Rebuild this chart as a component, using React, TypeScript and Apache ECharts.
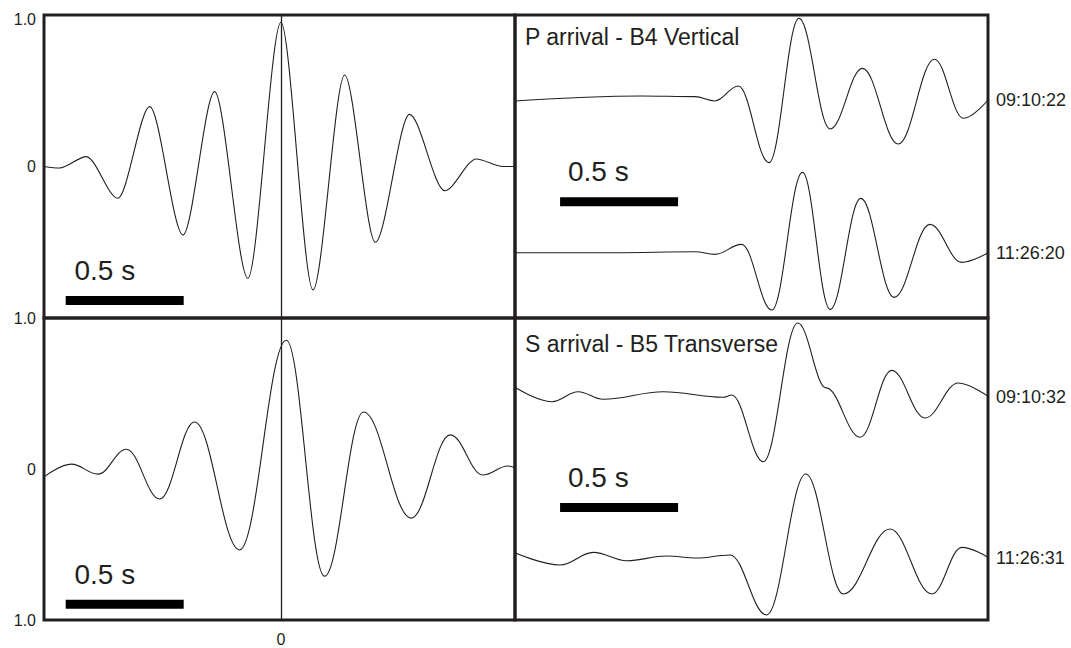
import React, { useEffect, useRef } from 'react';
import * as echarts from 'echarts';

const FONT = '"Liberation Sans", Arial, Helvetica, sans-serif';
const INK = '#231f20';

// Left panels: stacked cross-correlation waveforms, turning points [time (s), normalised amplitude]
const xcorrP: [number, number][] = [
  [-1.004, 0.0], [-0.938, -0.01], [-0.825, 0.065], [-0.691, -0.21], [-0.556, 0.395],
  [-0.415, -0.452], [-0.281, 0.494], [-0.14, -0.738], [0, 0.952], [0.136, -0.815],
  [0.27, 0.604], [0.4, -0.5], [0.545, 0.344], [0.694, -0.16], [0.828, 0.05], [0.941, 0.0], [0.992, 0.0],
];
const xcorrS: [number, number][] = [
  [-1.004, -0.052], [-0.888, 0.032], [-0.775, -0.034], [-0.655, 0.131], [-0.514, -0.199],
  [-0.366, 0.311], [-0.175, -0.536], [0.023, 0.853], [0.185, -0.71], [0.35, 0.377],
  [0.552, -0.325], [0.718, 0.226], [0.856, -0.04], [0.962, 0.02], [0.992, 0.01],
];

// Right panels: individual traces, turning points [time (s), amplitude]
const pTrace1: [number, number][] = [
  [0, -0.013], [0.537, 0.053], [0.763, 0.044], [0.847, -0.013], [0.946, 0.185], [1.076, -0.827],
  [1.203, 1.078], [1.335, -0.383], [1.472, 0.418], [1.624, -0.581], [1.777, 0.537],
  [1.9, -0.242], [2.004, 0],
];
const pTrace2: [number, number][] = [
  [0, 0], [0.424, 0], [0.763, 0.013], [0.847, -0.022], [0.96, 0.11], [1.088, -0.757],
  [1.218, 1.06], [1.335, -0.748], [1.465, 0.717], [1.606, -0.59], [1.758, 0.374],
  [1.893, -0.128], [2.004, 0],
];
const sTrace1: [number, number][] = [
  [0, 0.128], [0.156, -0.062], [0.268, 0.07], [0.374, -0.03], [0.628, 0.07], [0.883, -0.004],
  [0.918, 0.026], [1.052, -0.854], [1.198, 0.977], [1.318, 0.12], [1.462, -0.532],
  [1.596, 0.352], [1.737, -0.277], [1.878, 0.185], [2.004, 0.009],
];
const sTrace2: [number, number][] = [
  [0, 0.07], [0.191, -0.092], [0.332, 0.075], [0.473, -0.036], [0.643, 0.026], [0.77, 0],
  [0.911, 0.04], [1.066, -0.752], [1.232, 1.109], [1.391, -0.475], [1.589, 0.383],
  [1.766, -0.475], [1.893, 0.141], [2.004, 0.009],
];

const panelTitles = ['P arrival - B4 Vertical', 'S arrival - B5 Transverse'];
const traceLabels = ['09:10:22', '11:26:20', '09:10:32', '11:26:31'];
const leftTickValues = [1, 0, -1];
const leftTickLabels = ['1.0', '0', '1.0'];
const bottomTickValues = [0];
const bottomTickLabels = ['0'];
const scaleBarLength = 0.5; // seconds
const scaleBarText = '0.5 s';

export default function App() {
  const ref = useRef<HTMLDivElement>(null);

  useEffect(() => {
    if (!ref.current) return;
    const chart = echarts.init(ref.current, undefined, { renderer: 'svg' });

    const border = { show: true, borderColor: INK, borderWidth: 3, backgroundColor: 'transparent' };
    const grids = [
      { left: 44, top: 15, width: 471, height: 303, ...border },
      { left: 44, top: 318, width: 471, height: 302, ...border },
      { left: 515, top: 15, width: 473, height: 303, ...border },
      { left: 515, top: 15, width: 473, height: 303, show: false },
      { left: 515, top: 318, width: 473, height: 302, ...border },
      { left: 515, top: 318, width: 473, height: 302, show: false },
    ].map((g) => ({ ...g, containLabel: false, outerBoundsMode: 'none' }));

    const hiddenX = (i: number, min: number, max: number) => ({
      type: 'value', gridIndex: i, min, max, show: false, splitLine: { show: false },
    });
    const xAxes = [
      hiddenX(0, -1.004, 0.992),
      {
        type: 'value', gridIndex: 1, min: -1.004, max: 0.992,
        axisLine: { show: false }, axisTick: { show: false }, splitLine: { show: false },
        axisLabel: {
          customValues: bottomTickValues,
          formatter: (v: number) => bottomTickLabels[bottomTickValues.indexOf(v)] ?? '',
          color: INK, fontFamily: FONT, fontSize: 16, margin: 11,
        },
      },
      hiddenX(2, 0, 2.004), hiddenX(3, 0, 2.004), hiddenX(4, 0, 2.004), hiddenX(5, 0, 2.004),
    ];

    const leftY = (i: number, shown: number[]) => ({
      type: 'value', gridIndex: i, min: -1, max: 1,
      axisLine: { show: false }, axisTick: { show: false }, splitLine: { show: false },
      axisLabel: {
        customValues: shown,
        formatter: (v: number) => {
          const lbl = leftTickLabels[leftTickValues.indexOf(v)] ?? '';
          return v === 1 ? `{t|${lbl}}` : lbl;
        },
        rich: { t: { padding: [8, 0, 0, 0], fontFamily: FONT, fontSize: 16, color: INK } },
        color: INK, fontFamily: FONT, fontSize: 16, margin: 8,
      },
    });
    const rightY = (i: number, min: number, max: number, label: string) => ({
      type: 'value', gridIndex: i, min, max, position: 'right',
      axisLine: { show: false }, axisTick: { show: false }, splitLine: { show: false },
      axisLabel: {
        customValues: [0], formatter: () => label,
        color: INK, fontFamily: FONT, fontSize: 18, margin: 8, padding: [6, 0, 0, 0],
      },
    });
    const yAxes = [
      leftY(0, [1, 0, -1]),
      leftY(1, [0, -1]),
      rightY(2, -2.878, 1.122, traceLabels[0]),
      rightY(3, -0.862, 3.138, traceLabels[1]),
      rightY(4, -2.944, 1.043, traceLabels[2]),
      rightY(5, -0.818, 3.168, traceLabels[3]),
    ];

    const wave = (i: number, data: [number, number][], smooth: number, extra: any = {}) => ({
      type: 'line', xAxisIndex: i, yAxisIndex: i, data, smooth, smoothMonotone: 'x',
      showSymbol: false, symbol: 'none', silent: true,
      lineStyle: { color: INK, width: 1.1 }, ...extra,
    });
    const zeroLine = {
      markLine: {
        silent: true, symbol: 'none', label: { show: false },
        lineStyle: { color: INK, width: 1.3, type: 'solid' },
        data: [{ xAxis: 0 }],
      },
    };
    const bar = (i: number, x0: number, y: number) => ({
      type: 'line', xAxisIndex: i, yAxisIndex: i, silent: true,
      data: [[x0, y], [x0 + scaleBarLength, y]],
      showSymbol: false, symbol: 'none',
      lineStyle: { color: '#000', width: 9, cap: 'butt' },
    });

    const series = [
      wave(0, xcorrP, 0.3, zeroLine),
      wave(1, xcorrS, 0.38, zeroLine),
      wave(2, pTrace1, 0.38),
      wave(3, pTrace2, 0.38),
      wave(4, sTrace1, 0.38),
      wave(5, sTrace2, 0.38),
      bar(0, -0.912, -0.884),
      bar(1, -0.912, -0.895),
      bar(2, 0.191, -1.343),
      bar(4, 0.191, -1.459),
    ];

    const txt = (x: number, y: number, text: string, size: number) => ({
      type: 'text', x, y, silent: true,
      style: { text, fill: INK, fontFamily: FONT, fontSize: size, verticalAlign: 'middle', align: 'left' },
    });

    chart.setOption({
      animation: false,
      backgroundColor: '#ffffff',
      grid: grids,
      xAxis: xAxes,
      yAxis: yAxes,
      series,
      graphic: [
        txt(525, 37, panelTitles[0], 23),
        txt(525, 343.5, panelTitles[1], 23),
        txt(74.5, 270, scaleBarText, 28),
        txt(74.5, 574, scaleBarText, 28),
        txt(568, 171, scaleBarText, 28),
        txt(568, 477, scaleBarText, 28),
      ],
    });

    return () => chart.dispose();
  }, []);

  return (
    <div
      ref={ref}
      style={{ position: 'absolute', left: 0, top: 0, width: 1071, height: 648, background: '#fff' }}
    />
  );
}
